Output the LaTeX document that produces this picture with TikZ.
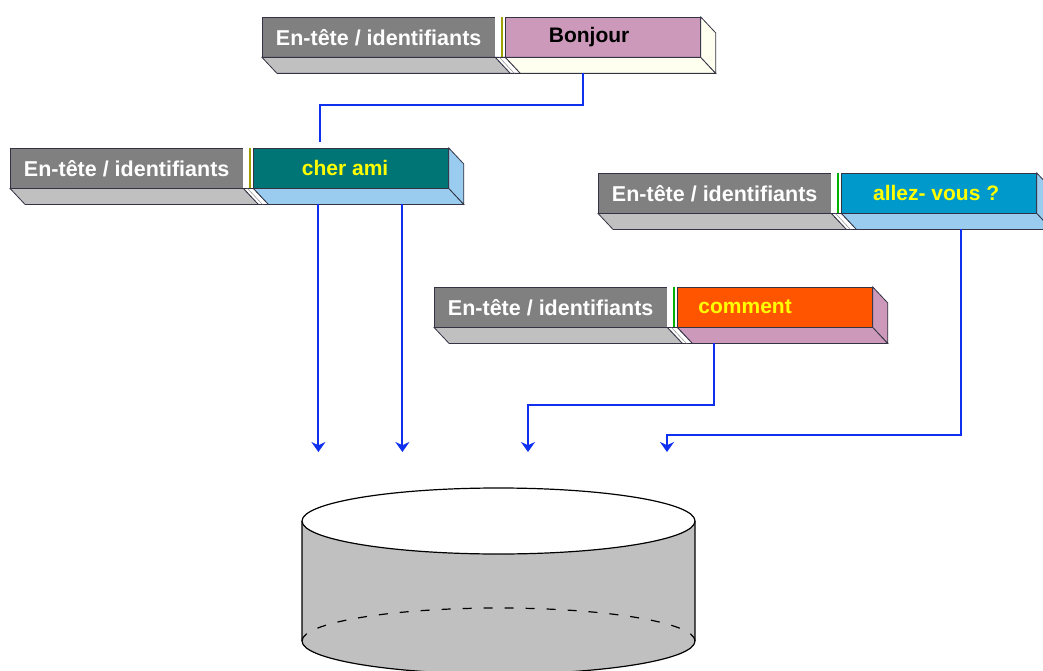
\documentclass[tikz,border=0pt]{standalone}
\usepackage{fontspec}
\setmainfont{Liberation Sans}
\usepackage{tikz}
\usetikzlibrary{positioning, calc, arrows.meta}

\definecolor{grisfonce}{HTML}{808080}
\definecolor{grisclair}{HTML}{C0C0C0}
\definecolor{mauve}{HTML}{CC99BB}
\definecolor{ivoire}{HTML}{FFFFF0}
\definecolor{sarcelle}{HTML}{007575}
\definecolor{bleuciel}{HTML}{99CCEE}
\definecolor{cyanfonce}{HTML}{0099CC}
\definecolor{orangevif}{HTML}{FF5500}
\definecolor{jaune}{HTML}{FFFF00}
\definecolor{olive}{HTML}{A0A000}
\definecolor{vert}{HTML}{00B000}
\definecolor{trait}{HTML}{333344}
\definecolor{lien}{HTML}{1030F0}

\tikzstyle{entete} = [rectangle,
    anchor=north west,
    minimum width=233pt,
    minimum height=40pt,
    inner sep=0pt,
    text centered,
    draw=trait,
    fill=grisfonce,
    text=white,
    font=\fontsize{21.5}{24}\selectfont\bfseries]
\tikzstyle{charge} = [rectangle,
    minimum width=195pt,
    minimum height=40pt,
    inner sep=0pt,
    draw=trait]
\tikzstyle{etiquette} = [inner sep=0pt,
    font=\fontsize{21}{24}\selectfont\bfseries]
\tikzstyle{face} = [draw=trait, line width=0.8pt]
\tikzstyle{ligne} = [draw=lien, line width=2pt]
\tikzstyle{fleche} = [ligne, ->, >={Stealth[length=10pt,width=14pt]}]

% #1 nom, #2 x, #3 y, #4 couleur, #5 cote, #6 texte, #7 libelle, #8 separateur, #9 decalage
\newcommand{\paquet}[9]{%
    \node (#1-h) [entete] at (#2,#3) {En-tête / identifiants};
    \node (#1-p) [charge, fill=#4, right=10pt of #1-h] {};
    \node (#1-t) [etiquette, text=#6] at ([xshift=#9pt]#1-p.center) {#7};
    \fill[white] (#1-h.north east) rectangle (#1-p.south west);
    \draw[#8, line width=2pt] ([xshift=-3pt]#1-p.north west) -- ([xshift=-3pt]#1-p.south west);
    \filldraw[face, fill=grisclair] (#1-h.south west) -- (#1-h.south east) -- ++(15,16) -- ($(#1-h.south west)+(15,16)$) -- cycle;
    \filldraw[face, fill=white] (#1-h.south east) -- (#1-p.south west) -- ++(15,16) -- ($(#1-h.south east)+(15,16)$) -- cycle;
    \draw[grisfonce] ($(#1-h.south east)+(4,0)$) -- ++(15,16);
    \filldraw[face, fill=#5] (#1-p.south west) -- (#1-p.south east) -- ++(15,16) -- ($(#1-p.south west)+(15,16)$) -- cycle;
    \filldraw[face, fill=#5] (#1-p.north east) -- ++(15,16) -- ($(#1-p.south east)+(15,16)$) -- (#1-p.south east) -- cycle;
}

\begin{document}
\begin{tikzpicture}[x=1pt, y=-1pt]
    \useasboundingbox (0,0) rectangle (1043,671);
    \fill[white] (0,0) rectangle (1043,671);
    \clip (0,0) rectangle (1043,671);

    \paquet{bonjour}{262}{17}{mauve}{ivoire}{black}{Bonjour}{olive}{-14}
    \paquet{cherami}{10}{148}{sarcelle}{bleuciel}{jaune}{cher ami}{olive}{-6}
    \paquet{allez}{598}{173}{cyanfonce}{bleuciel}{jaune}{allez- vous ?}{vert}{-3}
    \paquet{comment}{434}{287}{orangevif}{mauve}{jaune}{comment}{vert}{-30}

    % la base de donnees
    \fill[grisclair] (302,521) rectangle (695,641);
    \fill[grisclair] (498.5,641) ellipse [x radius=196.5, y radius=33];
    \draw[line width=1.2pt, dash pattern=on 9pt off 12pt] (302,641) arc[start angle=180, end angle=360, x radius=196.5, y radius=33];
    \draw[line width=1.2pt] (302,521) -- (302,641) arc[start angle=180, end angle=0, x radius=196.5, y radius=33] -- (695,521);
    \filldraw[fill=white, line width=1.2pt] (498.5,521) ellipse [x radius=196.5, y radius=33];

    \coordinate (bas) at (0,452);
    \coordinate (e3) at (528,452);
    \coordinate (e4) at (667,452);
    \coordinate (s1) at ([xshift=78pt,yshift=-16pt]bonjour-p.south west);
    \coordinate (s2) at ([xshift=65pt,yshift=-16pt]cherami-p.south west);
    \coordinate (s3) at ([xshift=149pt,yshift=-16pt]cherami-p.south west);
    \coordinate (s4) at ([xshift=37pt,yshift=-16pt]comment-p.south west);
    \coordinate (s5) at ([xshift=120pt,yshift=-16pt]allez-p.south west);

    \draw [ligne] (s1) -- ++(0,32) -| ([xshift=67pt,yshift=6pt]cherami-p.north west);
    \draw [fleche] (s2) -- (s2 |- bas);
    \draw [fleche] (s3) -- (s3 |- bas);
    \draw [fleche] (s4) -- ++(0,62) -| (e3);
    \draw [fleche] (s5) -- ++(0,206) -| (e4);
\end{tikzpicture}
\end{document}
